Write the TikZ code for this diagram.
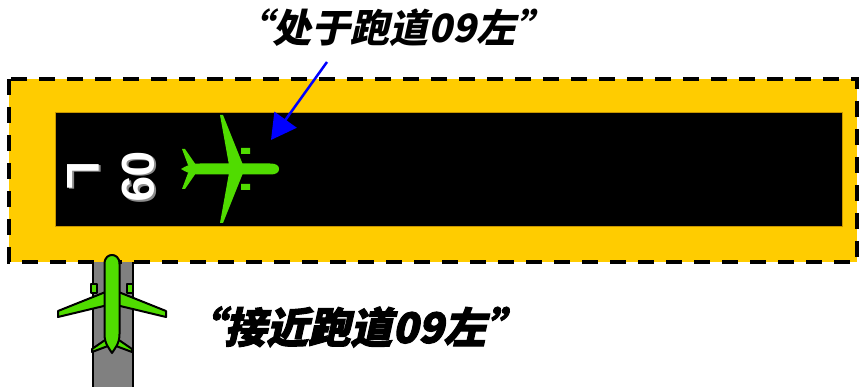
\documentclass[tikz,border=0pt]{standalone}
\usepackage{fontspec}
\usetikzlibrary{arrows.meta}

\newfontfamily\cjkfont[FakeSlant=0.22,BoldFeatures={FakeSlant=0.22}]{Noto Sans CJK SC}
\newfontfamily\heavycjk[FakeSlant=0.22,BoldFeatures={FakeSlant=0.22,FakeBold=2.5}]{Noto Sans CJK SC}
\newfontfamily\rwyfont{Liberation Sans}

\definecolor{apron}{RGB}{255,204,0}
\definecolor{edgegold}{RGB}{200,150,0}
\definecolor{planegreen}{RGB}{80,220,0}
\definecolor{taxigray}{RGB}{128,128,128}

% airliner seen from above, nose along +x, centre at the origin
% #1 = half width of the fuselage, #2 = chord at the wing tip
\newcommand{\airliner}[2]{%
  \path[jet] (11,15) rectangle (20,21) (11,-15) rectangle (20,-21);
  \path[jet] (13,4) -- (-7,54) -- (-7-#2,54) -- (-1,4) -- cycle;
  \path[jet] (13,-4) -- (-7,-54) -- (-7-#2,-54) -- (-1,-4) -- cycle;
  \path[jet] (-34,4) -- (-45,20) -- (-48,20) -- (-42,4) -- cycle;
  \path[jet] (-34,-4) -- (-45,-20) -- (-48,-20) -- (-42,-4) -- cycle;
  \path[jet] (-49,0) .. controls (-44,3) and (-40,#1) .. (-30,#1) -- (40,#1)
    .. controls (47,#1) and (49,3) .. (49,0)
    .. controls (49,-3) and (47,-#1) .. (40,-#1) -- (-30,-#1)
    .. controls (-40,-#1) and (-44,-3) .. (-49,0) -- cycle;
}

\begin{document}
\begin{tikzpicture}[x=1pt,y=-1pt,>={Triangle[length=25pt,width=27pt]},
                    jet/.style={fill=planegreen}]
  \tikzstyle{label}=[inner sep=0pt,text=black]
  \tikzstyle{rwytext}=[inner sep=0pt,text=white,font=\rwyfont\bfseries\fontsize{46}{50}\selectfont]

  \useasboundingbox (0,0) rectangle (859,387);

  \draw[fill=taxigray,line width=1.5pt] (93,258) rectangle (133,390);

  \fill[apron] (9,79) rectangle (857,262);
  \draw[dash pattern=on 16pt off 12pt,line width=4pt] (9,79) rectangle (857,262);
  \draw[fill=black,draw=edgegold,line width=0.8pt] (55,112) rectangle (842,226);

  \node[rwytext,text=black!45,rotate=-90] at (85,177) {L};
  \node[rwytext,rotate=-90]               (rwyside) at (83.5,175.5) {L};
  \node[rwytext,text=black!45,rotate=-90] at (140,178.5) {09};
  \node[rwytext,rotate=-90]               (rwynum) at (138.5,177) {09};

  \begin{scope}[shift={(230,169)}]
    \airliner{5.5}{3}
  \end{scope}
  \begin{scope}[shift={(112,304)},rotate=90,
                jet/.append style={draw=black,line width=2pt,line join=round}]
    \airliner{7.5}{6}
  \end{scope}

  \node[label,font=\cjkfont\bfseries\fontsize{39}{44}\selectfont] (onrwy) at (394,28) {“处于跑道09左”};
  \node[label,font=\heavycjk\bfseries\fontsize{42}{47}\selectfont] (approach) at (355,327) {“接近跑道09左”};

  \coordinate (arrstart) at (327,62);
  \coordinate (arrtip)   at (271,140);
  \draw[->,blue,line width=2.5pt] (arrstart) -- (arrtip);
\end{tikzpicture}
\end{document}
